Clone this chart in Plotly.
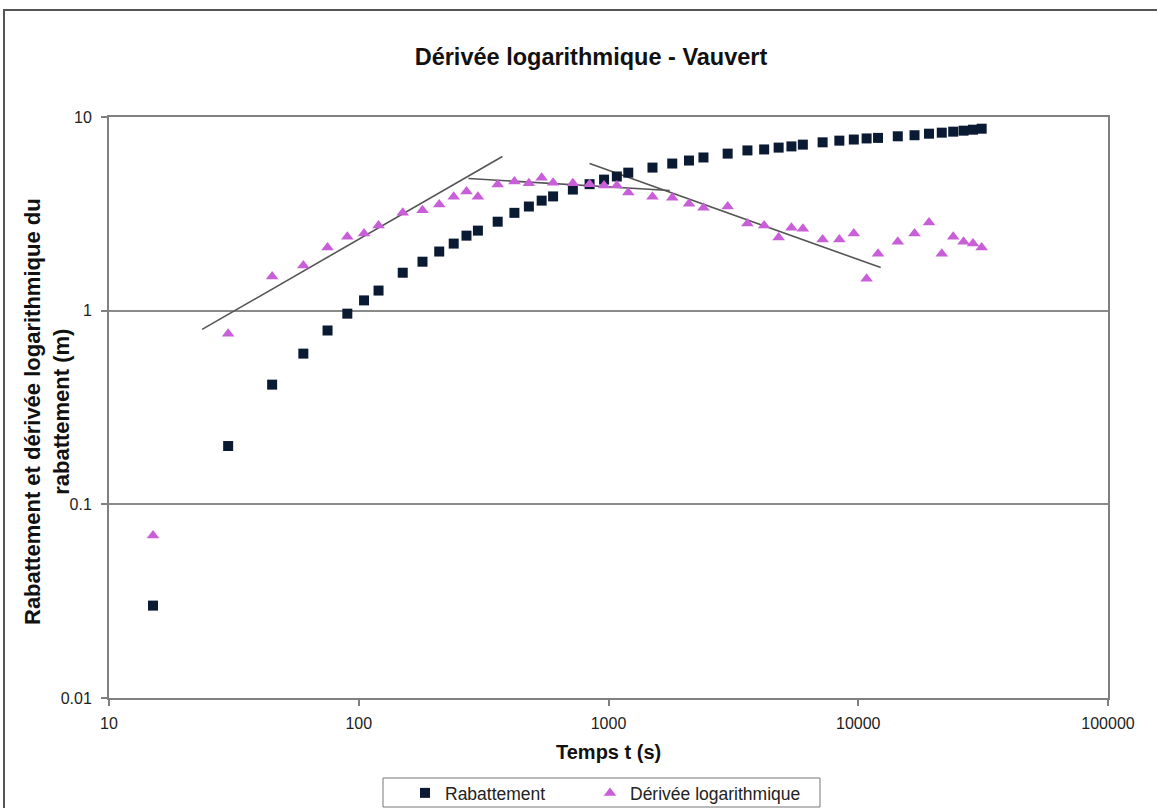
import plotly.graph_objects as go

# ---- data ----
temps = [15, 30, 45, 60, 75, 90, 105, 120, 150, 180, 210, 240, 270, 300, 360, 420, 480, 540,
         600, 720, 840, 960, 1080, 1200, 1500, 1800, 2100, 2400, 3000, 3600, 4200, 4800, 5400,
         6000, 7200, 8400, 9600, 10800, 12000, 14400, 16800, 19200, 21600, 24000, 26400, 28800, 31200]
rabattement = [0.03, 0.2, 0.415, 0.6, 0.79, 0.965, 1.13, 1.27, 1.57, 1.79, 2.02, 2.22, 2.44, 2.59,
               2.88, 3.2, 3.45, 3.7, 3.89, 4.22, 4.5, 4.75, 4.93, 5.16, 5.48, 5.75, 5.96, 6.18,
               6.47, 6.72, 6.8, 6.95, 7.05, 7.2, 7.4, 7.55, 7.65, 7.75, 7.8, 7.95, 8.05, 8.2,
               8.3, 8.4, 8.5, 8.6, 8.7]
derivee = [0.069, 0.76, 1.5, 1.71, 2.12, 2.41, 2.5, 2.75, 3.2, 3.3, 3.53, 3.88, 4.12, 3.88,
           4.48, 4.65, 4.55, 4.86, 4.58, 4.55, 4.5, 4.43, 4.43, 4.07, 3.88, 3.83, 3.57, 3.4,
           3.45, 2.82, 2.75, 2.39, 2.68, 2.65, 2.33, 2.33, 2.5, 1.46, 1.97, 2.27, 2.5, 2.85,
           1.97, 2.41, 2.27, 2.22, 2.12]

# fitted straight lines (segments 1, 2, 3)
seg1_x = [23.6, 376]
seg1_y = [0.80, 6.25]
seg2_x = [275, 1758]
seg2_y = [4.81, 4.17]
seg3_x = [840, 12300]
seg3_y = [5.75, 1.67]
seg_labels = ["1", "2", "3"]
seg_label_x = [67, 500, 4670]
seg_label_y = [2.62, 6.25, 3.61]

x_tickvals = [10, 100, 1000, 10000, 100000]
x_ticktext = ["10", "100", "1000", "10000", "100000"]
y_tickvals = [0.01, 0.1, 1, 10]
y_ticktext = ["0.01", "0.1", "1", "10"]

title = "Dérivée logarithmique - Vauvert"
x_title = "Temps t (s)"
y_title_l1 = "Rabattement et dérivée logarithmique du"
y_title_l2 = "rabattement (m)"

FONT = "Liberation Sans, Arial, sans-serif"
LINE_COL = "#555555"

fig = go.Figure()
for sx, sy in [(seg1_x, seg1_y), (seg2_x, seg2_y), (seg3_x, seg3_y)]:
    fig.add_trace(go.Scatter(x=sx, y=sy, mode="lines", showlegend=False,
                             line=dict(color=LINE_COL, width=1.6), hoverinfo="skip"))

fig.add_trace(go.Scatter(x=temps, y=rabattement, mode="markers", name="Rabattement",
                         legend="legend",
                         marker=dict(symbol="square", size=10, color="#0b1a33")))
fig.add_trace(go.Scatter(x=temps, y=derivee, mode="markers", name="Dérivée logarithmique",
                         legend="legend2",
                         marker=dict(symbol="triangle-up", size=11, color="#c95fd8")))

for t, lx, ly in zip(seg_labels, seg_label_x, seg_label_y):
    fig.add_annotation(x=lx, y=ly, xref="x", yref="y", text="<b>%s</b>" % t, showarrow=False,
                       font=dict(family=FONT, size=15, color="#111111"))

L, R, T, B = 109, 49, 117, 110
W, H = 1157, 808
pw, ph = W - L - R, H - T - B

def px(xp):
    return (xp - L) / pw

def py(yp):
    return (H - B - yp) / ph

# axis titles as annotations
fig.add_annotation(x=px(608), y=py(752), xref="paper", yref="paper", text="<b>%s</b>" % x_title,
                   xanchor="center", yanchor="middle",
                   showarrow=False, font=dict(family=FONT, size=20, color="#111111"))
fig.add_annotation(x=px(47), y=py(412), xref="paper", yref="paper",
                   text="<b>%s</b><br><b>%s</b>" % (y_title_l1, y_title_l2),
                   xanchor="center", yanchor="middle",
                   textangle=-90, showarrow=False, font=dict(family=FONT, size=22, color="#111111"))

# outer chart border (right/bottom sides lie outside the picture)
fig.add_shape(type="rect", xref="paper", yref="paper", x0=px(4), x1=px(1175), y0=py(830), y1=py(10),
              line=dict(color="#555555", width=2), fillcolor="rgba(0,0,0,0)")
# legend box
fig.add_shape(type="rect", xref="paper", yref="paper", x0=px(383), x1=px(820), y0=py(807), y1=py(778),
              line=dict(color="#777777", width=1), fillcolor="white", layer="below")

leg_common = dict(orientation="h", xanchor="left", yanchor="top", borderwidth=0,
                  bgcolor="rgba(0,0,0,0)", font=dict(family=FONT, size=17.5, color="#222222"),
                  itemwidth=30)

fig.update_layout(
    width=W, height=H,
    margin=dict(l=L, r=R, t=T, b=B, autoexpand=False),
    paper_bgcolor="white", plot_bgcolor="white",
    font=dict(family=FONT, color="#222222"),
    title=dict(text="<b>%s</b>" % title, x=591 / W, xanchor="center", y=1 - 57 / H, yanchor="middle",
               yref="container", font=dict(family=FONT, size=23.5, color="#111111")),
    showlegend=True,
    legend=dict(x=px(405), y=py(775), **leg_common),
    legend2=dict(x=px(590), y=py(775), **leg_common),
)
fig.update_xaxes(type="log", range=[1, 5], tickvals=x_tickvals, ticktext=x_ticktext,
                 showgrid=False, showline=True, mirror=True, linecolor="#808080", linewidth=2,
                 ticks="outside", ticklen=6, tickcolor="#808080", tickwidth=1.5,
                 tickfont=dict(family=FONT, size=16, color="#222222"), ticklabelstandoff=4,
                 zeroline=False)
fig.update_yaxes(type="log", range=[-2, 1], tickvals=y_tickvals, ticktext=y_ticktext,
                 showgrid=True, gridcolor="#8a8a8a", gridwidth=1.5,
                 showline=True, mirror=True, linecolor="#808080", linewidth=2,
                 ticks="outside", ticklen=6, tickcolor="#808080", tickwidth=1.5,
                 tickfont=dict(family=FONT, size=16, color="#222222"), ticklabelstandoff=6,
                 zeroline=False)

fig.write_html("out.html", config={"displayModeBar": False},
               post_script="document.body.style.margin='0';document.body.style.overflow='hidden';")
